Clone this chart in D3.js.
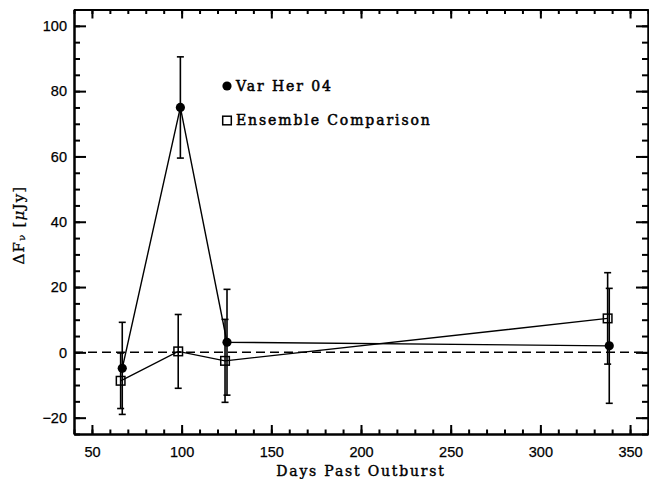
<!DOCTYPE html>
<html>
<head>
<meta charset="utf-8">
<script src="https://cdn.jsdelivr.net/npm/d3@7"></script>
<style>
  body { margin: 0; background: #fff; }
  svg { display: block; font-family: "DejaVu Serif", serif; }
  .axis path, .axis line { stroke: #000; stroke-width: 2; }
  .axis text { font-size: 14.5px; fill: #000; stroke: #000; stroke-width: 0.25; }
  .label { font-size: 14px; fill: #000; stroke: #000; stroke-width: 0.4; letter-spacing: 1.8px; }
  .ylabel { font-size: 15px; fill: #000; stroke: #000; stroke-width: 0.3; letter-spacing: 1.2px; }
  .legend { font-size: 14px; fill: #000; stroke: #000; stroke-width: 0.5; letter-spacing: 1.9px; }
</style>
</head>
<body>
<script>
// Var Her 04 photometry (filled circles)
const varHerDays = [66.9, 99.3, 125.3, 338.4];
const varHerFlux = [-4.9, 75.0, 3.1, 2.0];
const varHerErr  = [14.1, 15.5, 16.2, 17.6];

// ensemble comparison stars (open squares)
const compDays = [66.0, 98.1, 124.2, 337.5];
const compFlux = [-8.7, 0.3, -2.6, 10.4];
const compErr  = [8.5, 11.3, 12.7, 14.0];

const xTicks = [50, 100, 150, 200, 250, 300, 350];
const yTicks = [-20, 0, 20, 40, 60, 80, 100];
const legendLabels = ['Var Her 04', 'Ensemble Comparison'];

const width = 649, height = 479;
const margin = { top: 9.5, right: 1, bottom: 45, left: 74 };

const svg = d3.select('body').append('svg')
  .attr('width', width)
  .attr('height', height);

const x = d3.scaleLinear().domain([40, 360]).range([margin.left, width - margin.right]);
const y = d3.scaleLinear().domain([-25, 105]).range([height - margin.bottom, margin.top]);

const x0 = x.range()[0], x1 = x.range()[1];
const y0 = y.range()[0], y1 = y.range()[1];

// minor ticks first, major ticks on top (IDL style, pointing inwards)
const xMinor = d3.range(40, 361, 10);
const yMinor = d3.range(-25, 106, 5);

function axes() {
  // bottom
  svg.append('g').attr('class', 'axis').attr('transform', 'translate(0,' + y0 + ')')
    .call(d3.axisBottom(x).tickValues(xMinor).tickSizeInner(-4.5).tickSizeOuter(0).tickFormat(''));
  const bx = svg.append('g').attr('class', 'axis').attr('transform', 'translate(0,' + y0 + ')')
    .call(d3.axisBottom(x).tickValues(xTicks).tickSizeInner(-9).tickSizeOuter(0));
  bx.selectAll('text').attr('y', 23).attr('dy', 0);

  // top
  svg.append('g').attr('class', 'axis').attr('transform', 'translate(0,' + y1 + ')')
    .call(d3.axisTop(x).tickValues(xMinor).tickSizeInner(-4.5).tickSizeOuter(0).tickFormat(''));
  svg.append('g').attr('class', 'axis').attr('transform', 'translate(0,' + y1 + ')')
    .call(d3.axisTop(x).tickValues(xTicks).tickSizeInner(-9).tickSizeOuter(0).tickFormat(''));

  // left
  svg.append('g').attr('class', 'axis').attr('transform', 'translate(' + x0 + ',0)')
    .call(d3.axisLeft(y).tickValues(yMinor).tickSizeInner(-6).tickSizeOuter(0).tickFormat(''));
  const ly = svg.append('g').attr('class', 'axis').attr('transform', 'translate(' + x0 + ',0)')
    .call(d3.axisLeft(y).tickValues(yTicks).tickSizeInner(-12).tickSizeOuter(0));
  ly.selectAll('text').attr('x', -7);

  // right
  svg.append('g').attr('class', 'axis').attr('transform', 'translate(' + x1 + ',0)')
    .call(d3.axisRight(y).tickValues(yMinor).tickSizeInner(-6).tickSizeOuter(0).tickFormat(''));
  svg.append('g').attr('class', 'axis').attr('transform', 'translate(' + x1 + ',0)')
    .call(d3.axisRight(y).tickValues(yTicks).tickSizeInner(-12).tickSizeOuter(0).tickFormat(''));
}
axes();

// zero line
svg.append('line')
  .attr('x1', x0).attr('x2', x1)
  .attr('y1', y(0)).attr('y2', y(0))
  .attr('stroke', '#000').attr('stroke-width', 1.5)
  .attr('stroke-dasharray', '9 5');

function series(days, flux, err, marker) {
  const pts = days.map((d, i) => ({ d: d, f: flux[i], e: err[i] }));
  const g = svg.append('g');

  g.selectAll('line.err').data(pts).enter().append('line')
    .attr('class', 'err')
    .attr('x1', p => x(p.d)).attr('x2', p => x(p.d))
    .attr('y1', p => y(p.f - p.e)).attr('y2', p => y(p.f + p.e))
    .attr('stroke', '#000').attr('stroke-width', 1.6);

  // caps
  [-1, 1].forEach(s => {
    g.selectAll('line.cap' + s).data(pts).enter().append('line')
      .attr('x1', p => x(p.d) - 3.5).attr('x2', p => x(p.d) + 3.5)
      .attr('y1', p => y(p.f + s * p.e)).attr('y2', p => y(p.f + s * p.e))
      .attr('stroke', '#000').attr('stroke-width', 1.6);
  });

  g.append('path').datum(pts)
    .attr('fill', 'none').attr('stroke', '#000').attr('stroke-width', 1.4)
    .attr('d', d3.line().x(p => x(p.d)).y(p => y(p.f)));

  if (marker === 'circle') {
    g.selectAll('circle').data(pts).enter().append('circle')
      .attr('cx', p => x(p.d)).attr('cy', p => y(p.f)).attr('r', 4.6)
      .attr('fill', '#000');
  } else {
    g.selectAll('rect').data(pts).enter().append('rect')
      .attr('x', p => x(p.d) - 4.3).attr('y', p => y(p.f) - 4.3)
      .attr('width', 8.6).attr('height', 8.6)
      .attr('fill', 'none').attr('stroke', '#000').attr('stroke-width', 1.5);
  }
}
series(compDays, compFlux, compErr, 'square');
series(varHerDays, varHerFlux, varHerErr, 'circle');

// legend
const leg = svg.append('g').attr('transform', 'translate(227,86)');
leg.append('circle').attr('cx', 0).attr('cy', 0).attr('r', 4.6).attr('fill', '#000');
leg.append('rect').attr('x', -4.3).attr('y', 30.2).attr('width', 8.6).attr('height', 8.6)
  .attr('fill', 'none').attr('stroke', '#000').attr('stroke-width', 1.5);
leg.selectAll('text').data(legendLabels).enter().append('text')
  .attr('class', 'legend')
  .attr('x', 9).attr('y', (d, i) => 4.5 + i * 34)
  .text(d => d);

// axis titles
svg.append('text').attr('class', 'label')
  .attr('x', (x0 + x1) / 2).attr('y', 476)
  .attr('text-anchor', 'middle')
  .text('Days Past Outburst');

const yl = svg.append('text').attr('class', 'ylabel')
  .attr('transform', 'translate(24,225) rotate(-90)')
  .attr('text-anchor', 'middle');
yl.append('tspan').text('\u0394F');
yl.append('tspan').attr('baseline-shift', '-10%').attr('font-size', '10px').text('\u03bd');
yl.append('tspan').text(' [');
yl.append('tspan').attr('font-style', 'italic').text('\u03bc');
yl.append('tspan').text('Jy]');
</script>
</body>
</html>
